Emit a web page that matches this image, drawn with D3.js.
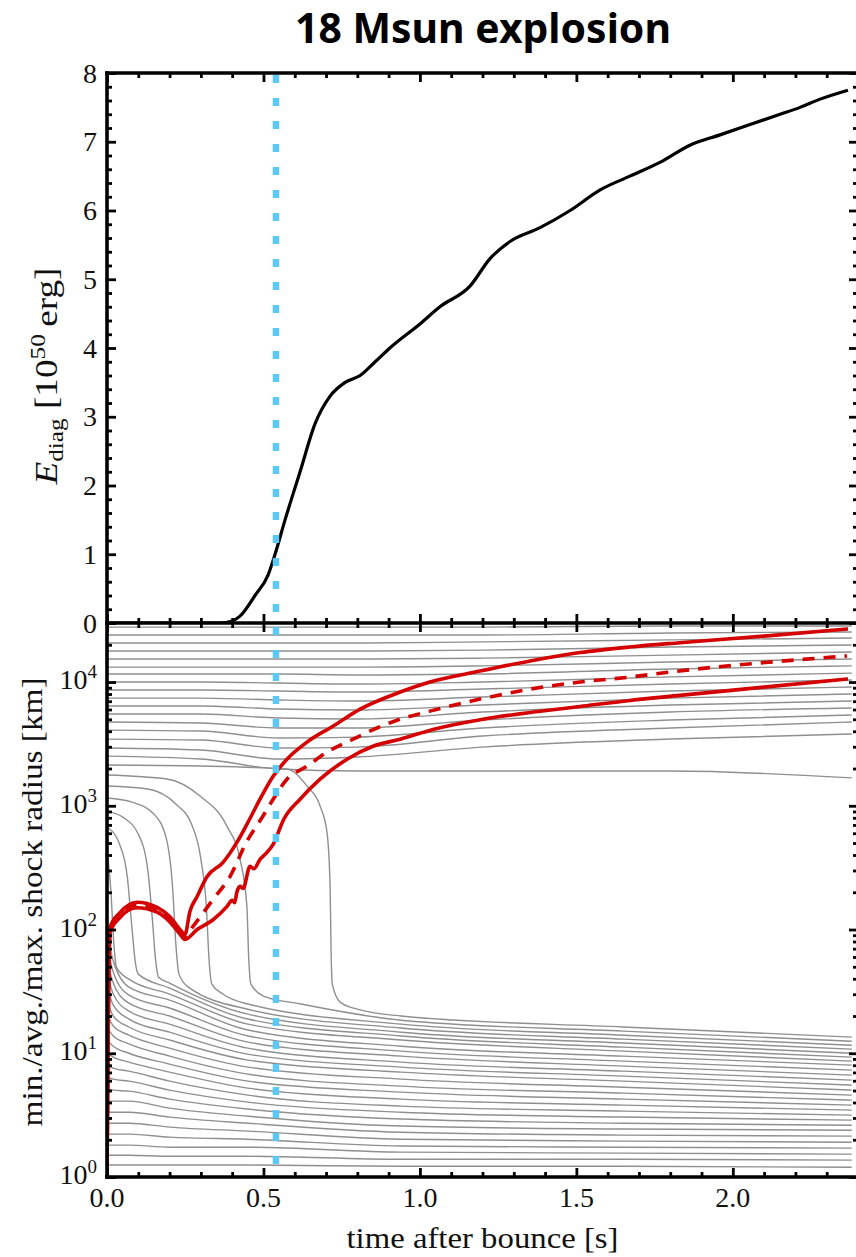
<!DOCTYPE html>
<html>
<head>
<meta charset="utf-8">
<script src="https://cdn.jsdelivr.net/npm/d3@7"></script>
<style>
  body { margin: 0; background: #fff; }
  svg { display: block; }
</style>
</head>
<body>
<script>
// ---- top panel: diagnostic explosion energy [1e50 erg] ----
const energyTime = [0, 0.361, 0.40, 0.425, 0.473, 0.515, 0.537, 0.569, 0.617, 0.665, 0.713, 0.761, 0.809, 0.857, 0.904, 1.0, 1.064, 1.16, 1.224, 1.288, 1.384, 1.48, 1.576, 1.671, 1.767, 1.863, 1.959, 2.055, 2.151, 2.215, 2.279, 2.368];
const energyValue = [0, 0, 0.03, 0.1, 0.4, 0.7, 1.0, 1.5, 2.2, 2.9, 3.3, 3.5, 3.6, 3.8, 4.0, 4.35, 4.6, 4.9, 5.3, 5.55, 5.75, 6.0, 6.3, 6.5, 6.7, 6.95, 7.1, 7.25, 7.4, 7.5, 7.62, 7.75];
const energyTicks = [0, 1, 2, 3, 4, 5, 6, 7, 8];

// ---- shock radius [km] ----
const shockMaxTime = [0, 0.003, 0.0096, 0.0415, 0.0959, 0.16, 0.201, 0.233, 0.249, 0.265, 0.288, 0.32, 0.371, 0.415, 0.447, 0.489, 0.531, 0.575, 0.639, 0.722, 0.809, 0.937, 1.032, 1.192, 1.352, 1.512, 1.671, 1.831, 2.1, 2.368];
const shockMaxRadius = [1, 10.7, 104, 137, 166, 151, 127, 100, 91, 140, 185, 268, 349, 506, 707, 1130, 1730, 2380, 3270, 4400, 6040, 8300, 10000, 12270, 14800, 17300, 19200, 20800, 23500, 26900];

const shockAvgTime = [0, 0.003, 0.0096, 0.0415, 0.0959, 0.16, 0.201, 0.233, 0.249, 0.275, 0.339, 0.393, 0.447, 0.498, 0.531, 0.575, 0.639, 0.703, 0.786, 0.863, 0.937, 1.032, 1.192, 1.352, 1.512, 1.671, 1.799, 2.365];
const shockAvgRadius = [1, 10.3, 100, 130, 158, 145, 122, 96, 87, 106, 175, 268, 516, 822, 1130, 1640, 2090, 2710, 3450, 4250, 5010, 5820, 7280, 8770, 10000, 10970, 12040, 16250];

const shockMinTime = [0, 0.003, 0.0096, 0.0415, 0.0959, 0.16, 0.201, 0.233, 0.249, 0.288, 0.339, 0.383, 0.40, 0.408, 0.415, 0.425, 0.435, 0.457, 0.47, 0.489, 0.505, 0.531, 0.565, 0.617, 0.681, 0.767, 0.85, 0.937, 1.045, 1.202, 1.384, 1.512, 1.671, 1.831, 2.1, 2.368];
const shockMinRadius = [1, 10, 95, 125, 150, 138, 115, 92, 83, 100, 120, 153, 172, 165, 200, 223, 215, 324, 310, 369, 405, 488, 778, 1130, 1640, 2380, 3030, 3450, 4160, 5010, 5800, 6350, 7100, 7800, 9100, 10580];

// ---- mass shells (grey) ----
const outerTimes = [0, 0.3, 0.55, 0.8, 1.2, 1.8, 2.38];
const outerShells = [
  [27800, 27800, 27800, 27800, 27800, 28400, 28400],
  [24000, 24000, 24000, 24000, 24000, 24900, 25400],
  [20700, 20700, 20700, 20700, 21100, 21900, 22700],
  [17800, 17800, 17800, 17800, 18100, 19200, 19900],
  [15340, 15340, 15340, 15340, 15600, 16500, 17500],
  [13200, 13200, 13200, 13200, 13500, 14500, 15340],
  [11600, 11600, 11600, 11400, 11600, 12740, 13500],
  [10000, 10000, 9810, 9630, 10000, 11000, 11800],
  [8620, 8620, 8460, 8300, 8780, 9630, 10400],
  [7420, 7420, 7160, 7020, 7560, 8460, 9110],
  [6400, 6400, 6050, 5940, 6520, 7420, 8000],
  [5510, 5510, 5120, 5020, 5720, 6520, 7020],
  [4750, 4660, 4250, 4250, 4930, 5720, 6170],
  [4090, 4020, 3530, 3590, 4250, 4930, 5410],
  [3460, 3400, 2930, 2980, 3660, 4250, 4750],
  [2930, 2820, 2385, 2480, 2980, 3460, 3800],
  [2520, 2385, 1980, 1910, 1910, 1910, 1680]
];

const fallingShells = [
  [[0, 447], [0.012, 212], [0.022, 76.2], [0.03, 49.7], [0.07, 39.7], [0.2, 30.1], [0.45, 17.2], [0.94, 12.8], [1.65, 10.4], [2.38, 8.64]],
  [[0, 673], [0.04, 490], [0.065, 265], [0.08, 101], [0.09, 55.6], [0.1, 43.6], [0.2, 33.6], [0.45, 18.9], [0.94, 13.8], [1.65, 11.2], [2.38, 9.31]],
  [[0, 906], [0.05, 810], [0.1, 590], [0.13, 308], [0.145, 121], [0.155, 57.7], [0.165, 41.2], [0.2, 36.9], [0.45, 20.7], [0.94, 14.8], [1.65, 12.1], [2.38, 10.0]],
  [[0, 1155], [0.08, 1071], [0.15, 857], [0.19, 538], [0.21, 212], [0.22, 76.2], [0.23, 43.6], [0.26, 34.2], [0.45, 22.7], [0.94, 16.0], [1.65, 13.0], [2.38, 10.8]],
  [[0, 1443], [0.13, 1365], [0.22, 1032], [0.27, 711], [0.3, 371], [0.318, 146], [0.326, 57.7], [0.335, 36.2], [0.37, 30.1], [0.45, 25.0], [0.94, 17.2], [1.65, 14.0], [2.38, 11.6]],
  [[0, 1771], [0.191, 1644], [0.297, 1198], [0.383, 685], [0.425, 371], [0.447, 155], [0.453, 57.7], [0.46, 36.2], [0.5, 29.0], [0.62, 25.0], [0.94, 18.5], [1.65, 15.1], [2.38, 12.5]],
  [[0, 2133], [0.297, 2094], [0.575, 1980], [0.639, 1443], [0.681, 995], [0.703, 613], [0.713, 224], [0.716, 69.5], [0.72, 36.2], [0.745, 25.9], [0.8, 22.7], [0.94, 20.0], [1.65, 16.3], [2.38, 13.5]]
];

const innerTimes = [0, 0.02, 0.07, 0.2, 0.45, 0.94, 1.65, 2.38];
const innerShells = [
  [100.8, 55.6, 34.2, 26.9, 15.4, 11.4, 9.48, 8.02],
  [76.2, 45.3, 29.5, 23.2, 13.8, 10.4, 8.64, 7.31],
  [57.7, 36.9, 25.4, 20.0, 12.3, 9.48, 7.87, 6.66],
  [44.4, 30.1, 21.9, 17.2, 11.0, 8.48, 7.17, 6.07],
  [34.2, 24.5, 18.9, 14.8, 9.84, 7.73, 6.53, 5.53],
  [26.4, 20.0, 16.3, 12.8, 8.80, 7.04, 5.95, 5.04],
  [20.7, 16.6, 14.0, 11.0, 7.73, 6.18, 5.32, 4.59],
  [16.3, 13.8, 11.9, 9.48, 6.78, 5.42, 4.76, 4.18],
  [12.8, 11.4, 10.0, 8.17, 5.95, 4.85, 4.26, 3.81],
  [10.0, 9.31, 8.48, 7.04, 5.23, 4.26, 3.81, 3.47],
  [8.02, 7.58, 7.17, 5.95, 4.59, 3.74, 3.41, 3.16],
  [6.41, 6.18, 5.95, 5.04, 4.03, 3.34, 3.05, 2.88],
  [5.13, 5.04, 4.94, 4.26, 3.54, 2.94, 2.72, 2.62],
  [4.10, 4.10, 4.10, 3.60, 3.10, 2.58, 2.44, 2.39],
  [3.34, 3.34, 3.34, 3.05, 2.72, 2.30, 2.18, 2.14],
  [2.72, 2.72, 2.72, 2.53, 2.35, 2.02, 1.95, 1.91],
  [2.22, 2.22, 2.22, 2.10, 2.02, 1.78, 1.74, 1.71],
  [1.81, 1.81, 1.81, 1.74, 1.74, 1.59, 1.56, 1.53],
  [1.50, 1.50, 1.50, 1.47, 1.47, 1.39, 1.39, 1.37],
  [1.25, 1.25, 1.25, 1.25, 1.25, 1.22, 1.22, 1.20]
];

const markerTime = 0.54;
const timeTicks = [0, 0.5, 1, 1.5, 2];
const timeLabels = ["0.0", "0.5", "1.0", "1.5", "2.0"];
const radiusDecades = [0, 1, 2, 3, 4];

// ---- layout ----
const W = 856, H = 1257;
const plotLeft = 107, plotRight = 858, plotTop = 73, plotMid = 623, plotBottom = 1177;
const serif = "'Liberation Serif', 'DejaVu Serif', serif";

const x = d3.scaleLinear().domain([0, 2.4]).range([plotLeft, plotRight]);
const yE = d3.scaleLinear().domain([0, 8]).range([plotMid, plotTop]);
const yR = d3.scaleLog().domain([1, 3e4]).range([plotBottom, plotMid]);

const svg = d3.select("body").append("svg").attr("width", W).attr("height", H);

const defs = svg.append("defs");
defs.append("clipPath").attr("id", "clipR").append("rect")
  .attr("x", plotLeft).attr("y", plotMid).attr("width", plotRight - plotLeft).attr("height", plotBottom - plotMid);
defs.append("clipPath").attr("id", "clipE").append("rect")
  .attr("x", plotLeft).attr("y", plotTop).attr("width", plotRight - plotLeft).attr("height", plotMid - plotTop);

const zip = (ts, vs) => ts.map((t, i) => [t, vs[i]]);
const lineR = d3.line().x(d => x(d[0])).y(d => yR(d[1])).curve(d3.curveMonotoneX);
const lineE = d3.line().x(d => x(d[0])).y(d => yE(d[1])).curve(d3.curveMonotoneX);

// grey shells
const gray = svg.append("g").attr("clip-path", "url(#clipR)")
  .attr("fill", "none").attr("stroke", "#8f8f8f").attr("stroke-width", 1.4);
gray.selectAll("path.outer").data(outerShells).join("path").attr("class", "outer")
  .attr("d", rs => lineR(zip(outerTimes, rs)));
gray.selectAll("path.fall").data(fallingShells).join("path").attr("class", "fall")
  .attr("d", lineR);
gray.selectAll("path.inner").data(innerShells).join("path").attr("class", "inner")
  .attr("d", rs => lineR(zip(innerTimes, rs)));

// shock radii
const red = svg.append("g").attr("clip-path", "url(#clipR)")
  .attr("fill", "none").attr("stroke", "#d50000").attr("stroke-linejoin", "round");
red.append("path").attr("d", lineR(zip(shockMaxTime, shockMaxRadius))).attr("stroke-width", 3.6);
red.append("path").attr("d", lineR(zip(shockMinTime, shockMinRadius))).attr("stroke-width", 3.6);
red.append("path").attr("d", lineR(zip(shockAvgTime, shockAvgRadius))).attr("stroke-width", 3.6)
  .attr("stroke-dasharray", "12,9");

// energy
svg.append("path").attr("clip-path", "url(#clipE)")
  .attr("d", lineE(zip(energyTime, energyValue)))
  .attr("fill", "none").attr("stroke", "#000").attr("stroke-width", 3.2).attr("stroke-linejoin", "round");

// marker line
svg.append("line")
  .attr("x1", x(markerTime)).attr("x2", x(markerTime))
  .attr("y1", plotTop + 2).attr("y2", plotBottom)
  .attr("stroke", "#5cc8f7").attr("stroke-width", 6.5).attr("stroke-dasharray", "8,15");

// ---- axes / ticks ----
const minorTime = d3.range(0, 2.4001, 0.1).filter(v => Math.abs(v * 2 - Math.round(v * 2)) > 1e-6);
const minorE = d3.range(0, 8.0001, 0.2).filter(v => Math.abs(v - Math.round(v)) > 1e-6);
const logTicks = yR.ticks();
const minorLog = logTicks.filter(v => Math.abs(Math.log10(v) - Math.round(Math.log10(v))) > 1e-6);
const majorLog = radiusDecades.map(k => Math.pow(10, k));

const axes = svg.append("g");
function addTicks(axis, tx, ty, len) {
  const g = axes.append("g").attr("transform", `translate(${tx},${ty})`)
    .call(axis.tickSize(-len).tickFormat(""));
  g.select(".domain").remove();
  g.selectAll(".tick line").attr("stroke", "#000").attr("stroke-width", 2.8);
}
// time ticks on every horizontal edge
addTicks(d3.axisTop(x).tickValues(timeTicks), 0, plotTop, 9);
addTicks(d3.axisTop(x).tickValues(minorTime), 0, plotTop, 5);
addTicks(d3.axisBottom(x).tickValues(timeTicks), 0, plotMid, 9);
addTicks(d3.axisBottom(x).tickValues(minorTime), 0, plotMid, 5);
addTicks(d3.axisTop(x).tickValues(timeTicks), 0, plotMid, 9);
addTicks(d3.axisTop(x).tickValues(minorTime), 0, plotMid, 5);
addTicks(d3.axisBottom(x).tickValues(timeTicks), 0, plotBottom, 9);
addTicks(d3.axisBottom(x).tickValues(minorTime), 0, plotBottom, 5);
// energy
addTicks(d3.axisLeft(yE).tickValues(energyTicks), plotLeft, 0, 9);
addTicks(d3.axisLeft(yE).tickValues(minorE), plotLeft, 0, 5);
addTicks(d3.axisRight(yE).tickValues(energyTicks), plotRight, 0, 9);
addTicks(d3.axisRight(yE).tickValues(minorE), plotRight, 0, 5);
// radius
addTicks(d3.axisLeft(yR).tickValues(majorLog), plotLeft, 0, 9);
addTicks(d3.axisLeft(yR).tickValues(minorLog), plotLeft, 0, 5);
addTicks(d3.axisRight(yR).tickValues(majorLog), plotRight, 0, 9);
addTicks(d3.axisRight(yR).tickValues(minorLog), plotRight, 0, 5);

// frame
const frame = svg.append("g").attr("stroke", "#000").attr("stroke-width", 3.6).attr("fill", "none");
frame.append("line").attr("x1", plotLeft).attr("x2", plotLeft).attr("y1", plotTop - 1.8).attr("y2", plotBottom + 1.8);
frame.append("line").attr("x1", plotRight).attr("x2", plotRight).attr("y1", plotTop).attr("y2", plotBottom);
[plotTop, plotMid, plotBottom].forEach(yy =>
  frame.append("line").attr("x1", plotLeft - 1.8).attr("x2", plotRight).attr("y1", yy).attr("y2", yy));

// ---- labels ----
const labels = svg.append("g").attr("font-family", serif).attr("fill", "#111");
labels.selectAll("text.e").data(energyTicks).join("text").attr("class", "e")
  .attr("font-family", serif)
  .attr("x", 97).attr("y", d => yE(d) + 9.5).attr("text-anchor", "end")
  .attr("font-size", 28).text(d => d);

const dec = labels.selectAll("text.r").data(radiusDecades).join("text").attr("class", "r")
  .attr("font-family", serif)
  .attr("x", 97).attr("y", d => yR(Math.pow(10, d)) + 7).attr("text-anchor", "end")
  .attr("font-size", 28);
dec.append("tspan").text("10");
dec.append("tspan").attr("font-size", 19).attr("dy", -11).text(d => d);

labels.selectAll("text.t").data(timeTicks).join("text").attr("class", "t")
  .attr("font-family", serif)
  .attr("x", d => x(d)).attr("y", plotBottom + 30).attr("text-anchor", "middle")
  .attr("font-size", 28).text((d, i) => timeLabels[i]);

labels.append("text")
  .attr("font-family", serif)
  .attr("x", (plotLeft + plotRight) / 2).attr("y", 1248).attr("text-anchor", "middle")
  .attr("font-size", 30).attr("textLength", 272).attr("lengthAdjust", "spacingAndGlyphs")
  .text("time after bounce [s]");

labels.append("text")
  .attr("font-family", serif)
  .attr("transform", `translate(42,${902}) rotate(-90)`).attr("text-anchor", "middle")
  .attr("font-size", 30).attr("textLength", 449).attr("lengthAdjust", "spacingAndGlyphs")
  .text("min./avg./max. shock radius [km]");

const eLab = labels.append("text")
  .attr("font-family", serif)
  .attr("transform", `translate(57,${376}) rotate(-90)`).attr("text-anchor", "middle")
  .attr("font-size", 31).attr("textLength", 217).attr("lengthAdjust", "spacingAndGlyphs");
eLab.append("tspan").attr("font-style", "italic").text("E");
eLab.append("tspan").attr("font-size", 21).attr("dy", 6).text("diag");
eLab.append("tspan").attr("dy", -6).text(" [10");
eLab.append("tspan").attr("font-size", 21).attr("dy", -12).text("50");
eLab.append("tspan").attr("dy", 12).text("\u2009erg]");

svg.append("text")
  .attr("x", 483).attr("y", 43).attr("text-anchor", "middle")
  .attr("font-family", "'Noto Sans', 'Open Sans', sans-serif").attr("font-weight", "bold")
  .attr("font-size", 41).attr("textLength", 376).attr("lengthAdjust", "spacingAndGlyphs")
  .attr("fill", "#000")
  .text("18 Msun explosion");
</script>
</body>
</html>
